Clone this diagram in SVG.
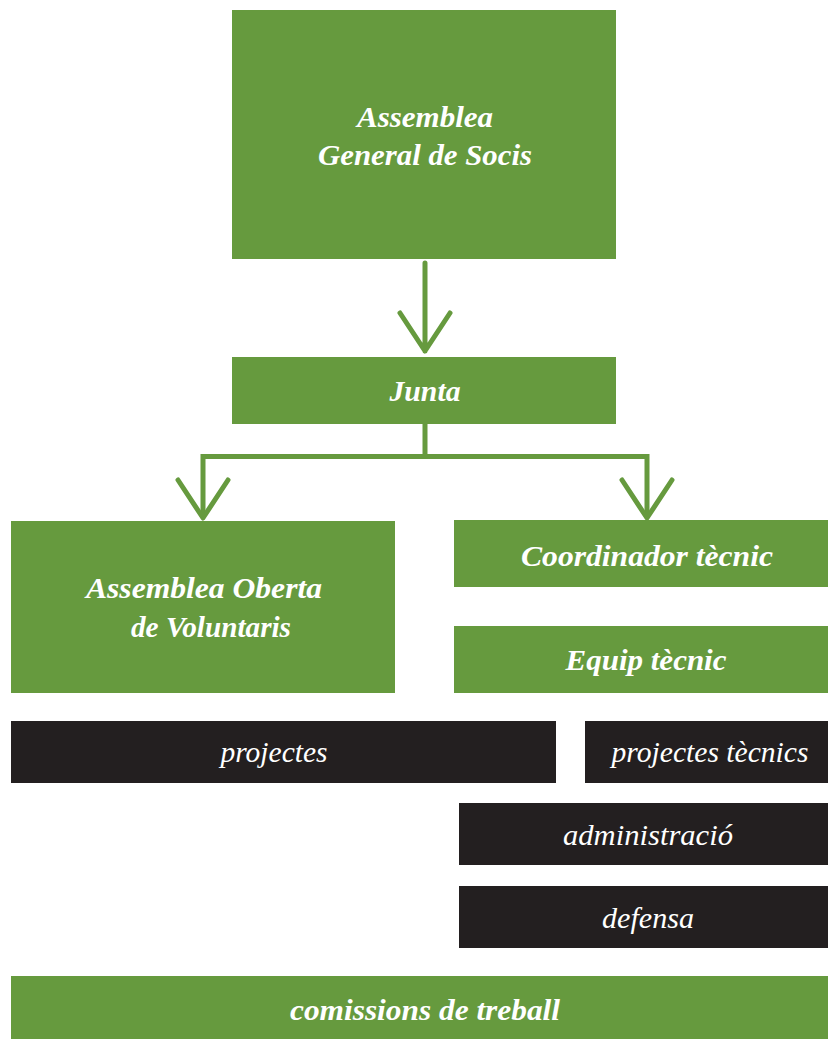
<svg xmlns="http://www.w3.org/2000/svg" width="828" height="1039" viewBox="0 0 828 1039">
<style>
.g{fill:#669a3e}
.k{fill:#231f20}
.tb{font-family:"Liberation Serif",serif;font-style:italic;font-weight:bold;font-size:28.5px;fill:#fff;text-anchor:middle}
.tr{font-family:"Liberation Serif",serif;font-style:italic;font-size:29px;fill:#fff;text-anchor:middle}
.c{fill:none;stroke:#669a3e;stroke-width:5;stroke-linecap:round;stroke-linejoin:round}
</style>
<rect width="828" height="1039" fill="#fff"/>
<g id="assemblea-general">
<rect class="g" x="232" y="10" width="384" height="249"/>
<text class="tb" x="425" y="127" textLength="136" lengthAdjust="spacingAndGlyphs">Assemblea</text>
<text class="tb" x="425" y="165" textLength="214" lengthAdjust="spacingAndGlyphs">General de Socis</text>
</g>
<g id="junta">
<rect class="g" x="232" y="357" width="384" height="67"/>
<text class="tb" x="425" y="401" textLength="71" lengthAdjust="spacingAndGlyphs">Junta</text>
</g>
<g id="assemblea-oberta">
<rect class="g" x="11" y="521" width="384" height="172"/>
<text class="tb" x="204" y="598" textLength="236" lengthAdjust="spacingAndGlyphs">Assemblea Oberta</text>
<text class="tb" x="211" y="637" textLength="160" lengthAdjust="spacingAndGlyphs">de Voluntaris</text>
</g>
<g id="coordinador">
<rect class="g" x="454" y="520" width="374" height="67"/>
<text class="tb" x="647" y="566" textLength="252" lengthAdjust="spacingAndGlyphs">Coordinador tècnic</text>
</g>
<g id="equip">
<rect class="g" x="454" y="626" width="374" height="67"/>
<text class="tb" x="646" y="670" textLength="161" lengthAdjust="spacingAndGlyphs">Equip tècnic</text>
</g>
<g id="projectes">
<rect class="k" x="11" y="721" width="545" height="62"/>
<text class="tr" x="274" y="762" textLength="107" lengthAdjust="spacingAndGlyphs">projectes</text>
</g>
<g id="projectes-tecnics">
<rect class="k" x="585" y="721" width="243" height="62"/>
<text class="tr" x="710" y="762" textLength="197" lengthAdjust="spacingAndGlyphs">projectes tècnics</text>
</g>
<g id="administracio">
<rect class="k" x="459" y="803" width="369" height="62"/>
<text class="tr" x="648" y="845" textLength="170" lengthAdjust="spacingAndGlyphs">administració</text>
</g>
<g id="defensa">
<rect class="k" x="459" y="886" width="369" height="62"/>
<text class="tr" x="648" y="928" textLength="92" lengthAdjust="spacingAndGlyphs">defensa</text>
</g>
<g id="comissions">
<rect class="g" x="11" y="976" width="817" height="63"/>
<text class="tb" x="425" y="1020" textLength="270" lengthAdjust="spacingAndGlyphs">comissions de treball</text>
</g>
<g id="connectors">
<path class="c" d="M425 263V351M400 313L425 351L450 313" stroke-linecap="butt"/>
<path class="c" style="stroke-linecap:butt;stroke-linejoin:miter" d="M425 424V456.5M203 518V456.5H647V518"/>
<path class="c" d="M178 480L203 518L228 480M622 480L647 518L672 480"/>
</g>
</svg>
